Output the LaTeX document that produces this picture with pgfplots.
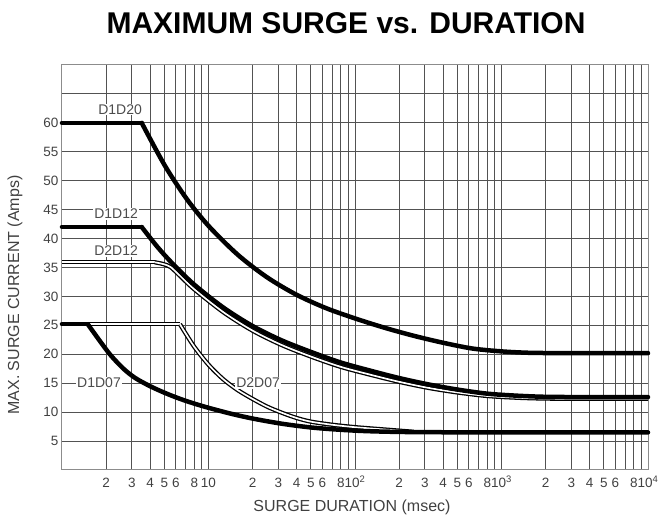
\documentclass[border=0pt]{standalone}
\usepackage{fontspec}
\setmainfont{Liberation Sans}
\usepackage{pgfplots}
\pgfplotsset{compat=1.18}
\tikzset{
  solidc/.style={black, line width=4.5pt, line cap=round, line join=round, no marks},
  dblc/.style={black, line width=1.3pt, double=white, double distance=1.7pt, line join=round, no marks},
  clab/.style={fill=white, inner sep=1pt, text=black!70, font=\fontsize{14}{15}\selectfont},
}
\begin{document}
\begin{tikzpicture}
\begin{axis}[
  scale only axis, width=586pt, height=405pt,
  xmode=log, log basis x=10,
  xmin=1, xmax=10000, ymin=0, ymax=70,
  xtick={2,3,4,5,6,8,10,20,30,40,50,60,80,100,200,300,400,500,600,800,1000,2000,3000,4000,5000,6000,8000,10000},
  xticklabels={2,3,4,5,6,8,10,2,3,4,5,6,8,10\textsuperscript{2},2,3,4,5,6,8,10\textsuperscript{3},2,3,4,5,6,8,10\textsuperscript{4}},
  minor xtick={7,9,70,90,700,900,7000,9000},
  ytick={5,10,...,65},
  yticklabels={5,10,15,20,25,30,35,40,45,50,55,60,{}},
  grid=both,
  major grid style={black!68, line width=1pt},
  minor grid style={black!68, line width=1pt},
  major tick length=0pt, minor tick length=0pt,
  axis line style={black!45, line width=1pt},
  tick label style={font=\fontsize{13.5}{14}\selectfont, text=black!75},
  xticklabel style={yshift=-4pt, text height=10pt, text depth=0pt},
  /pgf/number format/assume math mode=true,
  clip=false,
]
\coordinate (ll) at (rel axis cs:0,0);
\coordinate (ur) at (rel axis cs:1,1);
\coordinate (tt) at (rel axis cs:0.5,1);
\coordinate (xl) at (rel axis cs:0.5,0);
\coordinate (yl) at (rel axis cs:0,0.432);
% D2D07 (double)
\addplot[dblc] coordinates {(1,25.2) (6.383,25.2)};
\addplot[dblc, smooth] coordinates {(6.383,25.2) (7.943,21.4) (10,18.2) (12.59,15.7) (15.85,13.8) (19.95,12.3) (25.12,10.95) (31.62,9.9) (39.81,9.0) (50.12,8.35) (70.79,7.8) (100,7.4) (158.5,7.0) (251.2,6.6)};
% D1D07
\addplot[solidc] coordinates {(1,25.2) (1.5,25.2)};
\addplot[solidc, smooth] coordinates {(1.5,25.2) (1.778,22.6) (2.138,19.9) (2.630,17.5) (3.162,15.9) (3.981,14.5) (5.012,13.35) (6.310,12.35) (7.943,11.5) (10,10.75) (14.13,9.75) (19.95,8.9) (31.62,8.0) (50.12,7.35) (79.43,6.95) (125.9,6.7) (251.2,6.55) (1000,6.5) (10000,6.5)};
% D2D12 (double)
\addplot[dblc] coordinates {(1,35.9) (4.3,35.9)};
\addplot[dblc, smooth] coordinates {(4.3,35.9) (4.898,35.6) (5.495,35.1) (6.310,33.7) (7.943,31.3) (12.59,27.3) (19.95,24.1) (31.62,21.6) (50.12,19.6) (79.43,17.85) (125.9,16.5) (199.5,15.25) (316.2,14.2) (501.2,13.4) (794.3,12.8) (1259,12.5) (1995,12.35) (3981,12.3) (10000,12.3)};
% D1D12
\addplot[solidc] coordinates {(1,42) (3.5,42)};
\addplot[solidc, smooth] coordinates {(3.5,42) (4.467,38.6) (5.623,35.8) (7.943,32.1) (12.59,28.1) (19.95,24.9) (31.62,22.4) (50.12,20.4) (79.43,18.6) (125.9,17.2) (199.5,15.9) (316.2,14.8) (501.2,13.9) (794.3,13.2) (1259,12.85) (1995,12.65) (3981,12.6) (10000,12.6)};
% D1D20
\addplot[solidc] coordinates {(1,60) (3.5,60)};
\addplot[solidc, smooth] coordinates {(3.5,60) (5.012,52.7) (7.079,46.9) (10,42.2) (15.85,37.2) (25.12,33.3) (39.81,30.3) (63.1,28.0) (100,26.2) (158.5,24.6) (251.2,23.2) (398.1,22.0) (631,21.0) (1000,20.5) (1585,20.25) (3162,20.2) (10000,20.2)};
% labels
\node[clab] at (axis cs:2.49,62.3) {D1D20};
\node[clab] at (axis cs:2.34,44.3) {D1D12};
\node[clab] at (axis cs:2.34,37.9) {D2D12};
\node[clab] at (axis cs:1.79,15.1) {D1D07};
\node[clab] at (axis cs:21.8,15.1) {D2D07};
\end{axis}
\node[font=\bfseries\fontsize{30}{32}\selectfont] at ([shift={(-9pt,42pt)}]tt) {MAXIMUM SURGE vs. DURATION};
\node[font=\fontsize{16}{17}\selectfont, text=black!75] at ([shift={(-3pt,-37pt)}]xl) {SURGE DURATION (msec)};
\node[font=\fontsize{16}{17}\selectfont, text=black!75, rotate=90] at ([shift={(-47pt,0pt)}]yl) {MAX. SURGE CURRENT (Amps)};
\pgfresetboundingbox
\useasboundingbox ([shift={(-62pt,-48pt)}]ll) rectangle ([shift={(14pt,65pt)}]ur);
\end{tikzpicture}
\end{document}
